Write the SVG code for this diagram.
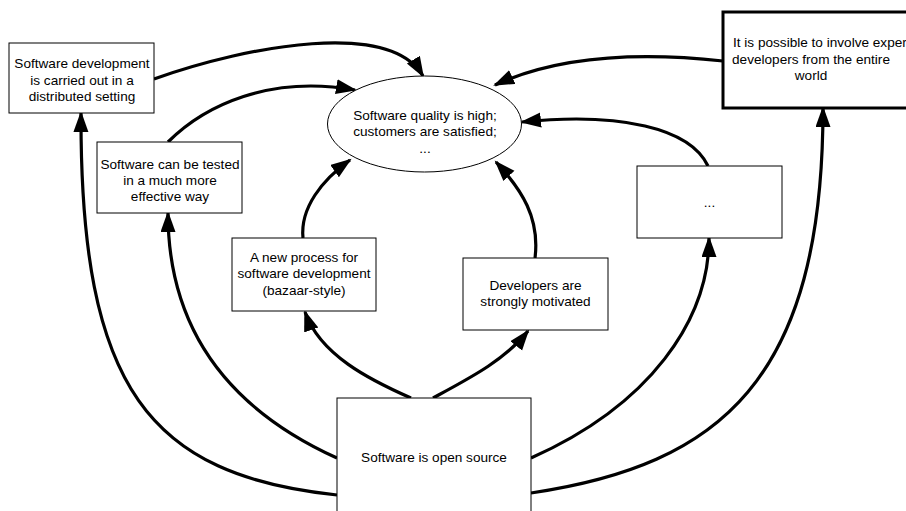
<svg xmlns="http://www.w3.org/2000/svg" width="906" height="511" viewBox="0 0 906 511">
<style>
.box{fill:#fff;stroke:#000;stroke-width:1}
.thick{fill:#fff;stroke:#000;stroke-width:3}
.t{font-family:"Liberation Sans",Arial,sans-serif;font-size:13.6px;fill:#000;text-anchor:middle}
.c{fill:none;stroke:#000;stroke-width:3.2;marker-end:url(#ah)}
</style>
<defs>
<marker id="ah" markerUnits="userSpaceOnUse" markerWidth="22" markerHeight="16" refX="19" refY="7.5" orient="auto">
<path d="M0,0 L21,7.5 L0,15 z" fill="#000"/>
</marker>
</defs>
<rect width="906" height="511" fill="#fff"/>
<g id="connectors">
<path class="c" d="M154,79 C250,45 390,20 423,76"/>
<path class="c" d="M168,142 C205,105 270,75 355,90"/>
<path class="c" d="M723,61 C640,52 560,55 495,85"/>
<path class="c" d="M708,166 C690,128 620,112 522,122"/>
<path class="c" d="M535,258 C540,218 522,190 496,162"/>
<path class="c" d="M303,238 C300,208 322,180 350,160"/>
<path class="c" d="M411,398 C370,380 320,355 305,312"/>
<path class="c" d="M433,398 C470,378 505,360 528,331"/>
<path class="c" d="M337,458 C220,405 168,320 168,213"/>
<path class="c" d="M337,495 C150,475 80,390 81,113"/>
<path class="c" d="M531,458 C650,405 709,320 709,238"/>
<path class="c" d="M531,493 C720,465 823,380 823,108"/>
</g>
<g id="n-distributed">
<rect class="box" x="9" y="43" width="145" height="70"/>
<text class="t" x="82" y="68">Software development</text>
<text class="t" x="82" y="84.5">is carried out in a</text>
<text class="t" x="82" y="101">distributed setting</text>
</g>
<g id="n-quality">
<ellipse class="box" cx="424.5" cy="124" rx="97" ry="48"/>
<text class="t" x="425" y="119.5">Software quality is high;</text>
<text class="t" x="425" y="135.5">customers are satisfied;</text>
<text class="t" x="425" y="152.5">...</text>
</g>
<g id="n-experts">
<rect class="thick" x="723" y="12" width="200" height="96"/>
<text class="t" x="733" y="46.5" style="text-anchor:start">It is possible to involve expert</text>
<text class="t" x="811" y="63.5">developers from the entire</text>
<text class="t" x="811" y="80">world</text>
</g>
<g id="n-tested">
<rect class="box" x="97" y="142" width="145" height="71"/>
<text class="t" x="170" y="168.5">Software can be tested</text>
<text class="t" x="170" y="184.5">in a much more</text>
<text class="t" x="170" y="201">effective way</text>
</g>
<g id="n-process">
<rect class="box" x="232" y="238" width="144" height="73"/>
<text class="t" x="304" y="262">A new process for</text>
<text class="t" x="304" y="278">software development</text>
<text class="t" x="304" y="294.5">(bazaar-style)</text>
</g>
<g id="n-motivated">
<rect class="box" x="463" y="258" width="145" height="72"/>
<text class="t" x="535.5" y="289.5">Developers are</text>
<text class="t" x="535.5" y="305.5">strongly motivated</text>
</g>
<g id="n-dots">
<rect class="box" x="637" y="166" width="145" height="72"/>
<text class="t" x="709.5" y="207">...</text>
</g>
<g id="n-opensource">
<rect class="box" x="337" y="398" width="194" height="120"/>
<text class="t" x="434" y="462">Software is open source</text>
</g>
</svg>
